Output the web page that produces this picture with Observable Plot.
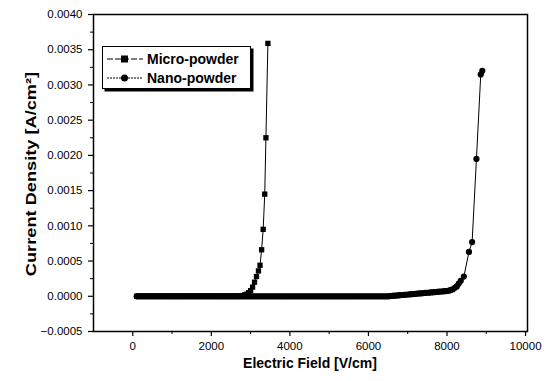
<!DOCTYPE html>
<html>
<head>
<meta charset="utf-8">
<script src="https://cdn.jsdelivr.net/npm/d3@7"></script>
<script src="https://cdn.jsdelivr.net/npm/@observablehq/plot@0.6"></script>
<style>
  html, body { margin: 0; padding: 0; background: white; }
  #wrap { position: relative; width: 554px; height: 381px; font-family: "Liberation Sans", Arial, sans-serif; color: black; }
  .ttl { position: absolute; font-weight: bold; font-size: 14px; white-space: nowrap; }
  #legend { position: absolute; left: 102px; top: 46px; width: 147px; height: 41px; border: 1.5px solid black; box-shadow: 2.5px 2.5px 0 black; background: white; }
  .row { position: absolute; left: 3px; height: 18px; display: flex; align-items: center; font-weight: bold; font-size: 14px; white-space: nowrap; }
  .row svg { margin-right: 3px; }
</style>
</head>
<body>
<div id="wrap"></div>
<script>
const microX = [
  100,150,200,250,300,350,400,450,500,550,600,650,700,750,800,850,900,950,1000,1050,
  1100,1150,1200,1250,1300,1350,1400,1450,1500,1550,1600,1650,1700,1750,1800,1850,1900,1950,2000,2050,
  2100,2150,2200,2250,2300,2350,2400,2450,2500,2550,2600,2650,2700,
  2750,2800,2850,2900,2950,3000,3050,3100,3150,3200,3240,3280,3320,3360,3390,3440];
const microY = [
  0,0,0,0,0,0,0,0,0,0,0,0,0,0,0,0,0,0,0,0,
  0,0,0,0,0,0,0,0,0,0,0,0,0,0,0,0,0,0,0,0,
  0,0,0,0,0,0,0,0,0,0,0,0,0,
  0.000005,0.00001,0.00002,0.00003,0.00005,0.00008,0.00013,0.0002,0.00028,0.00036,0.00044,0.00066,0.00095,0.00145,0.00225,0.00359];

const nanoX = [
  100,150,200,250,300,350,400,450,500,550,600,650,700,750,800,850,900,950,1000,1050,
  1100,1150,1200,1250,1300,1350,1400,1450,1500,1550,1600,1650,1700,1750,1800,1850,1900,1950,2000,2050,
  2100,2150,2200,2250,2300,2350,2400,2450,2500,2550,2600,2650,2700,2750,2800,2850,2900,2950,3000,3050,
  3100,3150,3200,3250,3300,3350,3400,3450,3500,3550,3600,3650,3700,3750,3800,3850,3900,3950,4000,4050,
  4100,4150,4200,4250,4300,4350,4400,4450,4500,4550,4600,4650,4700,4750,4800,4850,4900,4950,5000,5050,
  5100,5150,5200,5250,5300,5350,5400,5450,5500,5550,5600,5650,5700,5750,5800,5850,5900,5950,6000,6050,
  6100,6150,6200,6250,6300,6350,6400,6450,6500,6550,6600,6650,6700,6750,6800,6850,6900,6950,7000,7050,
  7100,7150,7200,7250,7300,7350,7400,7450,7500,7550,7600,7650,7700,7750,7800,7850,7900,7950,8000,
  8050,8100,8150,8200,8250,8300,8350,8430,8560,8640,8750,8860,8900];
const nanoY = [
  0,0,0,0,0,0,0,0,0,0,0,0,0,0,0,0,0,0,0,0,
  0,0,0,0,0,0,0,0,0,0,0,0,0,0,0,0,0,0,0,0,
  0,0,0,0,0,0,0,0,0,0,0,0,0,0,0,0,0,0,0,0,
  0,0,0,0,0,0,0,0,0,0,0,0,0,0,0,0,0,0,0,0,
  0,0,0,0,0,0,0,0,0,0,0,0,0,0,0,0,0,0,0,0,
  0,0,0,0,0,0,0,0,0,0,0,0,0,0,0,0,0,0,0,0,
  0,0,0,0,0,0,0,0,0,0.000003,0.000005,0.000008,0.00001,0.000012,0.000015,0.000018,0.00002,0.000022,0.000025,0.000028,
  0.00003,0.000032,0.000035,0.000038,0.00004,0.000042,0.000045,0.000048,0.00005,0.000052,0.000055,0.000058,0.00006,0.000062,0.000065,0.000068,0.00007,0.000072,0.000075,
  0.00008,0.00009,0.0001,0.00012,0.00014,0.00018,0.00022,0.00028,0.00063,0.00077,0.00195,0.00315,0.0032];

const yTicks = [-0.0005,0,0.0005,0.001,0.0015,0.002,0.0025,0.003,0.0035,0.004];
const yMinor = [-0.00025,0.00025,0.00075,0.00125,0.00175,0.00225,0.00275,0.00325,0.00375];
const xTicks = [0,2000,4000,6000,8000,10000];
const xMinor = [1000,3000,5000,7000,9000];

const xLabel = "Electric Field [V/cm]";
const yLabel = "Current Density [A/cm²]";
const seriesNames = ["Micro-powder", "Nano-powder"];

const micro = microX.map((x, i) => ({x, y: microY[i]}));
const nano = nanoX.map((x, i) => ({x, y: nanoY[i]}));

const chart = Plot.plot({
  width: 554, height: 381,
  marginLeft: 93, marginRight: 27, marginTop: 14, marginBottom: 50,
  x: {domain: [-1000, 10050]},
  y: {domain: [-0.0005, 0.004]},
  style: {fontFamily: "'Liberation Sans', Arial, sans-serif", fontSize: "11.5px", color: "black", background: "white"},
  marks: [
    Plot.axisY(yTicks, {tickSize: 5, tickPadding: 6, tickFormat: d3.format(".4f"), label: null, strokeWidth: 1.2}),
    Plot.axisY(yMinor, {tickSize: 3, tickFormat: () => "", label: null}),
    Plot.axisX(xTicks, {tickSize: 5, tickPadding: 5, tickFormat: d => String(d), label: null, strokeWidth: 1.2}),
    Plot.axisX(xMinor, {tickSize: 3, tickFormat: () => "", label: null}),
    Plot.line(micro, {x: "x", y: "y", stroke: "black", strokeWidth: 1}),
    Plot.dot(micro, {x: "x", y: "y", symbol: "square", r: 3, fill: "black", stroke: "none"}),
    Plot.line(nano, {x: "x", y: "y", stroke: "black", strokeWidth: 1}),
    Plot.dot(nano, {x: "x", y: "y", symbol: "circle", r: 3.1, fill: "black", stroke: "none"}),
    Plot.frame({stroke: "black", strokeWidth: 1.5})
  ]
});

const wrap = document.getElementById("wrap");
wrap.appendChild(chart);

const xl = document.createElement("div");
xl.className = "ttl";
xl.textContent = xLabel;
xl.style.left = "310px"; xl.style.top = "363px";
xl.style.transform = "translate(-50%, -50%)";
wrap.appendChild(xl);

const yl = document.createElement("div");
yl.className = "ttl";
yl.textContent = yLabel;
yl.style.left = "31px"; yl.style.top = "174px";
yl.style.transform = "translate(-50%, -50%) rotate(-90deg) scaleX(1.3)";
wrap.appendChild(yl);

const lg = document.createElement("div");
lg.id = "legend";
const sym = [
  '<svg width="38" height="10"><line x1="1" y1="5" x2="37" y2="5" stroke="black" stroke-width="1.2" stroke-dasharray="6,2"/><rect x="15" y="1.5" width="7" height="7" fill="black"/></svg>',
  '<svg width="38" height="10"><line x1="1" y1="5" x2="37" y2="5" stroke="black" stroke-width="1.2" stroke-dasharray="2,1"/><circle cx="18.5" cy="5" r="3.5" fill="black"/></svg>'
];
seriesNames.forEach((name, i) => {
  const r = document.createElement("div");
  r.className = "row";
  r.style.top = (i === 0 ? 3 : 22) + "px";
  r.innerHTML = sym[i] + "<span>" + name + "</span>";
  lg.appendChild(r);
});
wrap.appendChild(lg);
</script>
</body>
</html>
